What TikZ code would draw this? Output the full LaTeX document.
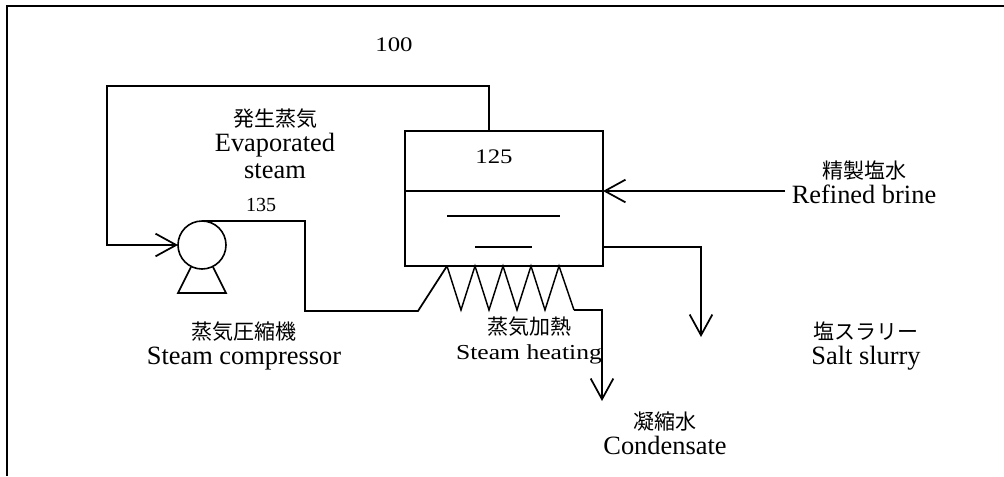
\documentclass[tikz,border=0pt]{standalone}
\usepackage{fontspec}
\setmainfont{Liberation Serif}
\newfontfamily\cjk{Noto Sans CJK JP}
\newfontfamily\widefont[FakeStretch=1.2]{Liberation Serif}
\usetikzlibrary{arrows.meta,shapes.geometric}
\newcommand{\jp}[1]{{\cjk\fontsize{15.75}{18.75}\selectfont #1}}

\begin{document}
\begin{tikzpicture}[
  x=0.75pt, y=-0.75pt,
  >={Straight Barb[length=15.5pt,width=17pt]},
  every node/.style={font=\fontsize{19.8}{18.75}\selectfont},
  vesselbox/.style={
    rectangle, draw=black, line width=1.9pt, outer sep=0pt,
    minimum width=148.5pt, minimum height=101.25pt
  },
  pumpbox/.style={
    circle, draw=black, line width=1.2pt, outer sep=0pt,
    minimum size=36pt
  },
  labelbox/.style={align=center, inner sep=0pt},
  numlabel/.style={inner sep=0pt, font=\widefont\fontsize{15.5}{18}\selectfont},
  flowline/.style={draw=black, line width=1.3pt},
  flowarrow/.style={->, draw=black, line width=1.3pt},
  coilline/.style={draw=black, line width=1.1pt}
]
\useasboundingbox (0,0) rectangle (1004,476);

% Frame - only the top and left edges show
\draw[line width=1.6pt] (7,476) -- (7,6) -- (1004,6);

% Main units
\node[vesselbox] (vessel) at (504,198.5) {};
\node[pumpbox] (pump) at (202,245) {};

% Fixed points on the lines
\coordinate (ventout) at (489,131);
\coordinate (looptop) at (107,86);
\coordinate (coilin) at (418,311);
\coordinate (coilout) at (574,310);
\coordinate (brinein) at (785,191);
\coordinate (slurryout) at (603,247);

% Pump stand
\draw[flowline] (191,267) -- (178,293) -- (226,293) -- (213,267);

% Evaporated steam back to the pump
\draw[flowarrow] (ventout) -- (ventout |- looptop) -- (looptop) -- (looptop |- pump) -- (pump.west);

% Compressed steam to the coil
\draw[flowline] (pump.north) -- (305,221) -- (305,311) -- (coilin) -- (447,266);

% Heating coil
\draw[coilline] (447,266) -- (461,310) -- (475,266) -- (489,310) -- (503,266)
  -- (517,310) -- (531,266) -- (545,310) -- (559,266) -- (coilout);

% Condensate out
\draw[flowarrow] (coilout) -- (602,310) -- (602,401);

% Brine in and liquid levels
\draw[flowarrow] (brinein) -- (vessel.east |- brinein);
\draw[flowline] (vessel.west |- brinein) -- (vessel.east |- brinein);
\draw[flowline] (447,216) -- (560,216);
\draw[flowline] (475,247) -- (532,247);

% Salt slurry out
\draw[flowarrow] (slurryout) -- (701,247) -- (701,337);

% Numbers
\node[numlabel] (numall) at (394,45) {100};
\node[numlabel] (numvessel) at (494,157) {125};
\node[numlabel, font=\fontsize{15}{18}\selectfont] (numpump) at (261,205) {135};

% Labels
\node[labelbox] (evaplabel) at (275,144) {\jp{発生蒸気}\\Evaporated\\[1.5pt]steam};
\node[labelbox] (complabel) at (244,346) {\jp{蒸気圧縮機}\\Steam compressor};
\node[labelbox] (heatlabel) at (529,340) {\jp{蒸気加熱}\\{\widefont\fontsize{16}{18.75}\selectfont Steam heating}};
\node[labelbox] (condlabel) at (665,433) {\jp{凝縮水}\\Condensate};
\node[labelbox] (slurrylabel) at (866,346) {\jp{塩スラリー}\\Salt slurry};
\node[labelbox] (brinelabel) at (864,182) {\jp{精製塩水}\\Refined brine};

\end{tikzpicture}
\end{document}
